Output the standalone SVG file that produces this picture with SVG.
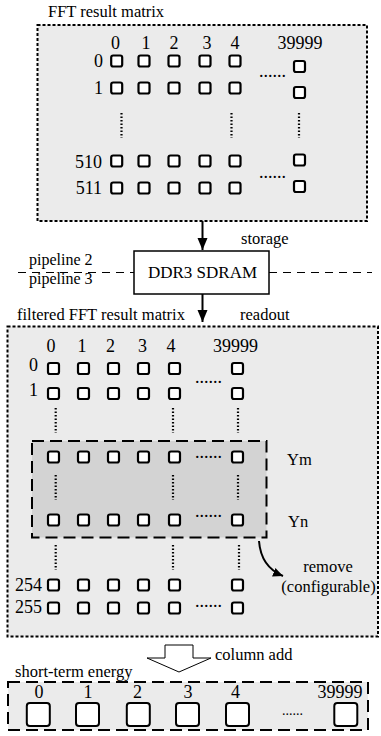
<svg xmlns="http://www.w3.org/2000/svg" width="381" height="736" viewBox="0 0 381 736">
<style>
text{font-family:"Liberation Serif","Times New Roman","DejaVu Serif",serif;fill:#000}
.lab{font-size:16.5px}
.num{font-size:18px}
.mid{text-anchor:middle}
.end{text-anchor:end}
.sq{fill:#fff;stroke:#000;stroke-width:2.2}
.bsq{fill:#fff;stroke:#000;stroke-width:2}
.vd{stroke:#000;stroke-width:2.2;stroke-dasharray:1.6 1.9;fill:none}
.outer{fill:#ebebeb;stroke:#000;stroke-width:2;stroke-dasharray:3 2}
.inner{fill:#d3d3d3;stroke:#000;stroke-width:2;stroke-dasharray:12 6}
.ste{fill:#ebebeb;stroke:#000;stroke-width:2;stroke-dasharray:12 6}
.conn{stroke:#000;stroke-width:2;fill:none}
</style>
<defs>
<rect id="s" x="-5.5" y="-5.5" width="11" height="11" rx="2"/>
<rect id="b" x="-11.5" y="-11.5" width="23" height="23" rx="3"/>
<marker id="ah" markerUnits="userSpaceOnUse" markerWidth="12" markerHeight="12" refX="12" refY="5" orient="auto">
<path d="M0,0 L12,5 L0,10 z" fill="#000"/>
</marker>
<marker id="ah2" markerUnits="userSpaceOnUse" markerWidth="12" markerHeight="10" refX="10" refY="4.5" orient="auto">
<path d="M0,0 L10,4.5 L0,9 z" fill="#000"/>
</marker>
</defs>

<g id="fft-result-matrix">
<text class="lab" x="48" y="17">FFT result matrix</text>
<rect class="outer" x="37.5" y="25" width="329.5" height="196"/>
<g class="num mid">
<text x="115.5" y="49">0</text><text x="146" y="49">1</text><text x="174" y="49">2</text><text x="207" y="49">3</text><text x="235" y="49">4</text><text x="300" y="49">39999</text>
</g>
<g class="num end">
<text x="103" y="67">0</text><text x="103" y="94">1</text><text x="102" y="168">510</text><text x="102" y="194">511</text>
</g>
<g class="sq">
<use href="#s" x="116.7" y="61"/><use href="#s" x="144" y="61"/><use href="#s" x="174" y="61"/><use href="#s" x="205" y="61"/><use href="#s" x="235" y="61"/><use href="#s" x="299.5" y="66.5"/>
<use href="#s" x="116.7" y="88"/><use href="#s" x="144" y="88"/><use href="#s" x="174" y="88"/><use href="#s" x="205" y="88"/><use href="#s" x="235" y="88"/><use href="#s" x="299.5" y="92.5"/>
<use href="#s" x="116.7" y="161"/><use href="#s" x="144" y="161"/><use href="#s" x="174" y="161"/><use href="#s" x="205" y="161"/><use href="#s" x="235" y="161"/><use href="#s" x="299.5" y="160"/>
<use href="#s" x="116.7" y="188"/><use href="#s" x="144" y="188"/><use href="#s" x="174" y="188"/><use href="#s" x="205" y="188"/><use href="#s" x="235" y="188"/><use href="#s" x="299.5" y="186.5"/>
</g>
<text class="num" x="259" y="77">......</text>
<text class="num" x="259" y="178">......</text>
<path class="vd" d="M121.5,113 V138 M231.5,113 V138 M299,113 V138"/>
</g>

<g id="pipeline-separator">
<path d="M18,272.5 H134 M269,272.5 H372" stroke="#000" stroke-width="1" stroke-dasharray="8 6" fill="none"/>
<text x="29" y="265" font-size="16">pipeline 2</text>
<text x="29" y="284" font-size="16">pipeline 3</text>
</g>

<g id="ddr3-sdram">
<rect x="134" y="251" width="135" height="43" fill="#fff" stroke="#000" stroke-width="1.5"/>
<text x="202.5" y="278" font-size="17" text-anchor="middle">DDR3 SDRAM</text>
</g>

<g id="filtered-fft-result-matrix">
<text class="lab" x="17" y="320">filtered FFT result matrix</text>
<rect class="outer" x="7.5" y="326.5" width="370.5" height="310"/>
<g id="removed-rows">
<rect class="inner" x="32" y="441" width="234.5" height="96.5"/>
</g>
<g class="num mid">
<text x="51" y="352">0</text><text x="82" y="352">1</text><text x="110.5" y="352">2</text><text x="142.5" y="352">3</text><text x="171" y="352">4</text><text x="235.5" y="352">39999</text>
</g>
<g class="num end">
<text x="38" y="371">0</text><text x="38" y="396">1</text><text x="42" y="591">254</text><text x="42" y="613">255</text>
</g>
<g class="sq">
<use href="#s" x="53.5" y="368.5"/><use href="#s" x="83.5" y="368.5"/><use href="#s" x="113.5" y="368.5"/><use href="#s" x="143.5" y="368.5"/><use href="#s" x="174.5" y="368.5"/><use href="#s" x="237.5" y="368.5"/>
<use href="#s" x="53.5" y="393.5"/><use href="#s" x="83.5" y="393.5"/><use href="#s" x="113.5" y="393.5"/><use href="#s" x="143.5" y="393.5"/><use href="#s" x="174.5" y="393.5"/><use href="#s" x="237.5" y="393.5"/>
<use href="#s" x="53.5" y="457"/><use href="#s" x="83.5" y="457"/><use href="#s" x="113.5" y="457"/><use href="#s" x="143.5" y="457"/><use href="#s" x="174.5" y="457"/><use href="#s" x="237.5" y="457"/>
<use href="#s" x="53.5" y="520"/><use href="#s" x="83.5" y="520"/><use href="#s" x="113.5" y="520"/><use href="#s" x="143.5" y="520"/><use href="#s" x="174.5" y="520"/><use href="#s" x="237.5" y="520"/>
<use href="#s" x="53.5" y="585"/><use href="#s" x="83.5" y="585"/><use href="#s" x="113.5" y="585"/><use href="#s" x="143.5" y="585"/><use href="#s" x="174.5" y="585"/><use href="#s" x="237.5" y="585"/>
<use href="#s" x="53.5" y="608"/><use href="#s" x="83.5" y="608"/><use href="#s" x="113.5" y="608"/><use href="#s" x="143.5" y="608"/><use href="#s" x="174.5" y="608"/><use href="#s" x="237.5" y="608"/>
</g>
<text class="num" x="195" y="383">......</text>
<text class="num" x="195" y="458">......</text>
<text class="num" x="195" y="517">......</text>
<text class="num" x="195" y="607">......</text>
<path class="vd" d="M55.7,408 V433 M173,408 V433 M238,408 V433 M55.7,475 V500 M173,475 V500 M238,475 V500 M55.7,545 V570 M173,545 V570 M239,545 V570"/>
<text class="lab" x="287" y="465">Ym</text>
<text class="lab" x="288" y="527">Yn</text>
<text class="lab mid" x="328" y="572">remove</text>
<text class="lab mid" x="328.5" y="592">(configurable)</text>
</g>

<g id="connectors">
<line class="conn" x1="202.5" y1="221" x2="202.5" y2="250" marker-end="url(#ah)"/>
<text class="lab" x="241" y="244">storage</text>
<line class="conn" x1="202.5" y1="294" x2="202.5" y2="322" marker-end="url(#ah)"/>
<text class="lab" x="240" y="320">readout</text>
<path class="conn" d="M259,541 Q261,567 283,576" stroke-width="1.5" marker-end="url(#ah2)"/>
<polygon points="165,645 193,645 193,658 211,658 179,672 147,658 165,658" fill="#fff" stroke="#000" stroke-width="1"/>
<text class="lab" x="215" y="660">column add</text>
</g>

<g id="short-term-energy">
<text class="lab" x="15" y="677">short-term energy</text>
<rect class="ste" x="8" y="682" width="360" height="48"/>
<g class="num mid">
<text x="39" y="698">0</text><text x="88" y="698">1</text><text x="137.5" y="698">2</text><text x="188" y="698">3</text><text x="235.5" y="698">4</text><text x="340" y="698">39999</text>
</g>
<g class="bsq">
<use href="#b" x="38.3" y="714.5"/><use href="#b" x="87.5" y="714.5"/><use href="#b" x="138.3" y="714.5"/><use href="#b" x="187.5" y="714.5"/><use href="#b" x="237.5" y="714.5"/><use href="#b" x="345.8" y="714.5"/>
</g>
<text x="282" y="715" font-size="14">......</text>
</g>
</svg>
